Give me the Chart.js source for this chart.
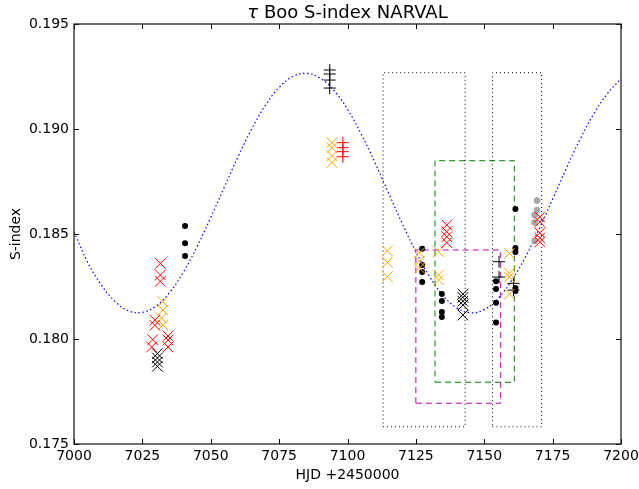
<!DOCTYPE html>
<html><head><meta charset="utf-8">
<script src="https://cdn.jsdelivr.net/npm/chart.js@4/dist/chart.umd.min.js"></script>
<style>html,body{margin:0;padding:0;background:#fff;}</style>
</head><body>
<canvas id="c" width="639" height="489"></canvas>
<script>
// ---- axis ticks ----
const xTickValues = [7000, 7025, 7050, 7075, 7100, 7125, 7150, 7175, 7200];
const yTickValues = [0.175, 0.180, 0.185, 0.190, 0.195];

// ---- model curve ----
const curveDays = [7000,7005,7010,7015,7020,7025,7030,7035,7040,7045,7050,7055,7060,7065,7070,7075,7080,7085,7090,7095,7100,7105,7110,7115,7120,7125,7130,7135,7140,7145,7150,7155,7160,7165,7170,7175,7180,7185,7190,7195,7200];
const curveS = [0.1851,0.18365,0.18257,0.18179,0.18134,0.18127,0.18157,0.18222,0.18319,0.18440,0.18579,0.18724,0.18869,0.19001,0.19113,0.19198,0.19250,0.19265,0.19242,0.19184,0.19094,0.18976,0.18841,0.18695,0.18550,0.18415,0.18298,0.18206,0.18148,0.18125,0.18140,0.18192,0.18278,0.18389,0.18522,0.18666,0.18812,0.18950,0.19071,0.19168,0.19240];

// ---- observations ----
const blackXDays = [7030.5,7030.5,7030.5,7030.5, 7142.2,7142.2,7142.2,7142.2,7142.2];
const blackXS    = [0.1793,0.1791,0.1789,0.1787, 0.18214,0.18198,0.1818,0.18162,0.18114];

const redXDays = [7031.6,7031.6,7031.6, 7029.6,7029.6,7028.8,7028.4, 7034.4,7034.4,7034.4, 7136.3,7136.3,7136.3,7136.3, 7170.3,7170.3,7170.3,7170.3,7170.3];
const redXS    = [0.1836,0.18305,0.18275, 0.1809,0.18065,0.17997,0.17962, 0.18014,0.17995,0.17962, 0.18543,0.18511,0.18487,0.18459, 0.18581,0.18557,0.18505,0.18481,0.18462];

const orangeXDays = [7032.5,7032.5,7032.0,7032.5, 7094.3,7094.3,7094.3,7094.3, 7114.6,7114.6,7114.6, 7126.3,7126.3,7126.3, 7133.3,7133.3,7133.3, 7159.2,7159.2,7159.2,7159.2];
const orangeXS    = [0.18178,0.18138,0.18100,0.18067, 0.18935,0.18911,0.18873,0.1884, 0.18420,0.18365,0.18297, 0.18410,0.18371,0.18338, 0.18416,0.18305,0.18281, 0.18407,0.18313,0.18295,0.18214];

const blackPlusDays = [7093.5,7093.5,7093.5,7093.5, 7155.4,7155.4, 7160.7,7160.7];
const blackPlusS    = [0.19281,0.19262,0.19233,0.19195, 0.18368,0.18295, 0.18265,0.18233];

const redPlusDays = [7098.3,7098.3,7098.3,7098.3];
const redPlusS    = [0.18935,0.18911,0.18892,0.18868];

const blackDotDays = [7040.6,7040.6,7040.6, 7127.3,7127.3,7127.3,7127.3, 7134.5,7134.5,7134.5,7134.5, 7154.3,7154.3,7154.3,7154.3, 7161.4,7161.4,7161.4,7161.4,7161.4];
const blackDotS    = [0.18538,0.18456,0.18395, 0.18430,0.18352,0.18319,0.18271, 0.18214,0.18181,0.18129,0.18105, 0.18275,0.18238,0.18173,0.18079, 0.18619,0.18433,0.18414,0.18243,0.18229];

const grayDotDays = [7169.3,7169.3,7168.4,7168.4,7168.4];
const grayDotS    = [0.18659,0.18614,0.18590,0.18555,0.18467];

// ---- boxes: [x0, x1, y0, y1] ----
const dottedBoxes  = [[7113, 7143, 0.17582, 0.19268], [7153, 7171, 0.17582, 0.19268]];
const greenBox     = [7132, 7161, 0.17794, 0.18849];
const magentaBox   = [7125, 7156, 0.17694, 0.18424];

// ---- helpers ----
const zip = (xs, ys) => xs.map((x, i) => ({x: x, y: ys[i]}));
const boxPath = b => [{x:b[0],y:b[2]},{x:b[1],y:b[2]},{x:b[1],y:b[3]},{x:b[0],y:b[3]},{x:b[0],y:b[2]}];

const FONT = '"DejaVu Sans", sans-serif';

const markerSet = (days, vals, style, color, r, fill) => ({
  data: zip(days, vals), showLine: false, pointStyle: style, pointRadius: r,
  pointBorderColor: color, pointBackgroundColor: fill || color, pointBorderWidth: style === 'circle' ? 0 : 1,
  order: 0
});
const boxSet = (b, color, dash) => ({
  data: boxPath(b), showLine: true, borderColor: color, borderWidth: 1, borderDash: dash,
  pointRadius: 0, tension: 0, fill: false, order: 5
});

const datasets = [
  markerSet(redXDays, redXS, 'crossRot', '#ff0000', 7.5),
  markerSet(orangeXDays, orangeXS, 'crossRot', '#ffa500', 7.5),
  markerSet(blackXDays, blackXS, 'crossRot', '#000000', 7.5),
  markerSet(blackPlusDays, blackPlusS, 'cross', '#000000', 6),
  markerSet(redPlusDays, redPlusS, 'cross', '#ff0000', 6),
  markerSet(blackDotDays, blackDotS, 'circle', '#000000', 3),
  markerSet(grayDotDays, grayDotS, 'circle', '#a8a8a8', 3.3),
  boxSet(dottedBoxes[0], '#000000', [1, 3]),
  boxSet(dottedBoxes[1], '#000000', [1, 3]),
  boxSet(greenBox, '#008000', [6, 4]),
  boxSet(magentaBox, '#bf00bf', [6, 4]),
  {data: zip(curveDays, curveS), showLine: true, borderColor: '#0000ff', borderWidth: 1.2,
   borderDash: [1.5, 2.5], pointRadius: 0, tension: 0.4, fill: false, order: 6}
];

const frameTicks = {
  id: 'frameTicks',
  afterDraw(chart) {
    const {ctx, chartArea: a, scales} = chart;
    ctx.save();
    ctx.strokeStyle = '#000';
    ctx.lineWidth = 1;
    ctx.beginPath();
    const L = 5;
    xTickValues.forEach(v => {
      const px = Math.round(scales.x.getPixelForValue(v)) + 0.5;
      ctx.moveTo(px, a.bottom); ctx.lineTo(px, a.bottom - L);
      ctx.moveTo(px, a.top); ctx.lineTo(px, a.top + L);
    });
    yTickValues.forEach(v => {
      const py = Math.round(scales.y.getPixelForValue(v)) + 0.5;
      ctx.moveTo(a.left, py); ctx.lineTo(a.left + L, py);
      ctx.moveTo(a.right, py); ctx.lineTo(a.right - L, py);
    });
    ctx.stroke();
    ctx.strokeStyle = '#222';
    ctx.lineWidth = 1.3;
    ctx.strokeRect(a.left, a.top, a.right - a.left, a.bottom - a.top);
    // title
    ctx.fillStyle = '#000';
    ctx.textBaseline = 'middle';
    const f1 = 'italic 18px ' + FONT, f2 = '18px ' + FONT;
    const t1 = 'τ', t2 = ' Boo S-index NARVAL';
    ctx.font = f1; const w1 = ctx.measureText(t1).width;
    ctx.font = f2; const w2 = ctx.measureText(t2).width;
    const cx = (a.left + a.right) / 2;
    let x0 = cx - (w1 + w2) / 2;
    ctx.textAlign = 'left';
    ctx.font = f1; ctx.fillText(t1, x0, 13);
    ctx.font = f2; ctx.fillText(t2, x0 + w1, 13);
    ctx.restore();
  }
};

new Chart(document.getElementById('c'), {
  type: 'scatter',
  data: {datasets},
  options: {
    responsive: false, animation: false, devicePixelRatio: 1, events: [],
    layout: {padding: {top: 24, right: 18, left: 0, bottom: 0}},
    plugins: {legend: {display: false}, tooltip: {enabled: false}, title: {display: false}},
    scales: {
      x: {
        type: 'linear', min: 7000, max: 7200,
        afterFit: s => { s.height = 45; s.paddingLeft = 0; s.paddingRight = 0; },
        afterBuildTicks: s => { s.ticks = xTickValues.map(v => ({value: v})); },
        ticks: {autoSkip: false, maxRotation: 0, padding: 4, color: '#000',
                font: {family: FONT, size: 14}, callback: v => String(v)},
        grid: {display: false, drawTicks: false},
        border: {display: false},
        title: {display: true, text: 'HJD +2450000', color: '#000',
                font: {family: FONT, size: 14}, padding: {top: 0, bottom: 5}}
      },
      y: {
        type: 'linear', min: 0.175, max: 0.195,
        afterFit: s => { s.width = 74; s.paddingTop = 0; s.paddingBottom = 0; },
        afterBuildTicks: s => { s.ticks = yTickValues.map(v => ({value: v})); },
        ticks: {autoSkip: false, padding: 5, color: '#000',
                font: {family: FONT, size: 14}, callback: v => Number(v).toFixed(3)},
        grid: {display: false, drawTicks: false},
        border: {display: false},
        title: {display: true, text: 'S-index', color: '#000',
                font: {family: FONT, size: 14}, padding: {top: 8, bottom: 0}}
      }
    }
  },
  plugins: [frameTicks]
});
</script>
</body></html>
